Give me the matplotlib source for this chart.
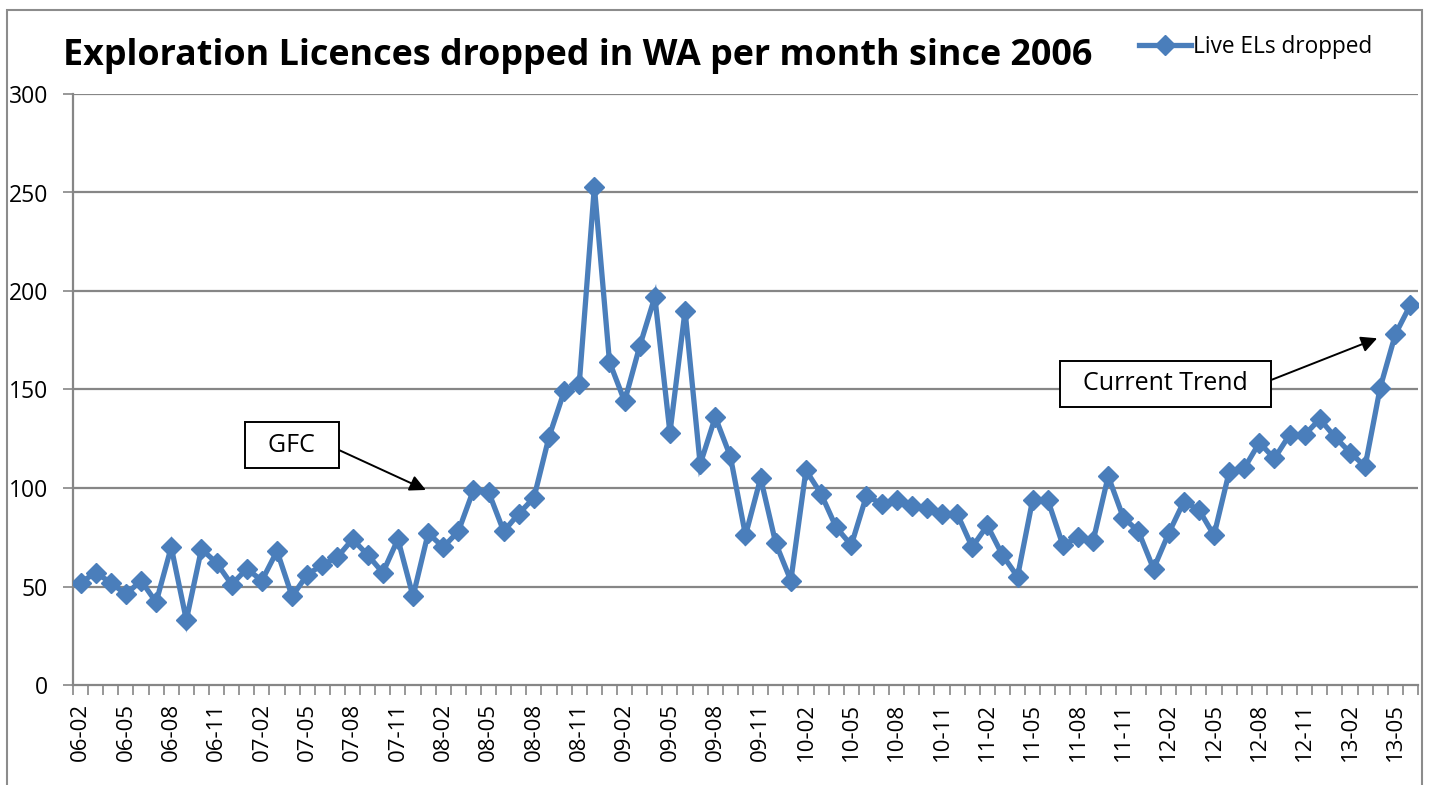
import matplotlib
matplotlib.use("Agg")
import matplotlib.pyplot as plt
from matplotlib.patches import Rectangle

# ---- data ----
start_year, start_month = 2006, 2
values = [52, 57, 52, 46, 53, 42, 70, 33, 69, 62, 51, 59,
          53, 68, 45, 56, 61, 65, 74, 66, 57, 74, 45, 77,
          70, 78, 99, 98, 78, 87, 95, 126, 149, 153, 253, 164,
          144, 172, 197, 128, 190, 112, 136, 116, 76, 105, 72, 53,
          109, 97, 80, 71, 96, 92, 94, 91, 90, 87, 87, 70,
          81, 66, 55, 94, 94, 71, 75, 73, 106, 85, 78, 59,
          77, 93, 89, 76, 108, 110, 123, 115, 127, 127, 135, 126,
          118, 111, 151, 178, 193]
series_name = "Live ELs dropped"
title = "Exploration Licences dropped in WA per month since 2006"
yticks = [0, 50, 100, 150, 200, 250, 300]

categories = []
y, m = start_year, start_month
for _ in values:
    categories.append(f"{y % 100:02d}-{m:02d}")
    m += 1
    if m > 12:
        m = 1
        y += 1

W, H = 1429, 785
fig = plt.figure(figsize=(W / 100, H / 100), dpi=100)
fig.patch.set_facecolor("white")

FONT = ["Open Sans", "DejaVu Sans"]
plt.rcParams['font.family'] = FONT

left, right, top, bottom = 73, 1418, 94, 685
ax = fig.add_axes([left / W, 1 - bottom / H, (right - left) / W, (bottom - top) / H])

x = list(range(len(values)))
blue = "#4A7EBB"
grid = "#868686"
ax.plot(x, values, color=blue, lw=3.8, marker="D", markersize=10,
        markeredgecolor=blue, markerfacecolor=blue, label=series_name,
        solid_joinstyle="miter", zorder=3)

ax.set_xlim(-0.5, len(values) - 0.5)
ax.set_ylim(0, 300)

ax.set_yticks(yticks)
ax.set_yticklabels([str(v) for v in yticks])
for v in yticks[1:]:
    ax.axhline(v, color=grid, lw=1.6, zorder=1)

major = list(range(0, len(values), 3))
ax.set_xticks(major)
ax.set_xticklabels([categories[i] for i in major], rotation=90)
ax.set_xticks([i - 0.5 for i in range(len(values) + 1)], minor=True)
ax.tick_params(axis="x", which="major", length=0, pad=13, labelsize=16, labelcolor="black")
ax.tick_params(axis="x", which="minor", length=7, width=1.2, color=grid, direction="out")
ax.tick_params(axis="y", which="major", length=7, width=1.2, color=grid, pad=11,
               labelsize=16.5, labelcolor="black")

for s in ["top", "right"]:
    ax.spines[s].set_visible(False)
for s in ["left", "bottom"]:
    ax.spines[s].set_color(grid)
    ax.spines[s].set_linewidth(1.6)

# title
fig.text(578 / W, 1 - 56 / H, title, ha="center", va="center",
         fontsize=25.8, fontweight="bold", family=FONT)

# legend
leg = ax.legend(loc="center left", bbox_to_anchor=(1128 / W, 1 - 47 / H),
                bbox_transform=fig.transFigure, frameon=False, fontsize=16.3,
                handlelength=2.3, handletextpad=0.08, borderpad=0)

# annotations
box = dict(boxstyle="square,pad=0.42", fc="white", ec="black", lw=1.4)
arrow = dict(arrowstyle="-|>", color="black", lw=1.4, mutation_scale=24,
             shrinkA=0, shrinkB=0, relpos=(1, 0.5))
ax.annotate("  GFC  ", xy=(22.85, 99), xytext=(13.97, 121.8), textcoords="data",
            ha="center", va="center", fontsize=18, bbox=box, arrowprops=arrow, zorder=5)
ax.annotate("  Current Trend  ", xy=(85.8, 176), xytext=(71.8, 152.8), textcoords="data",
            ha="center", va="center", fontsize=18, bbox=box, arrowprops=arrow, zorder=5)

# outer chart border
fig.patches.append(Rectangle((7 / W, -0.1), (1422 - 7) / W, 1.1 - 10 / H,
                             transform=fig.transFigure, fill=False,
                             edgecolor="#8c8c8c", lw=1.5))

fig.savefig("out.png", dpi=100)
